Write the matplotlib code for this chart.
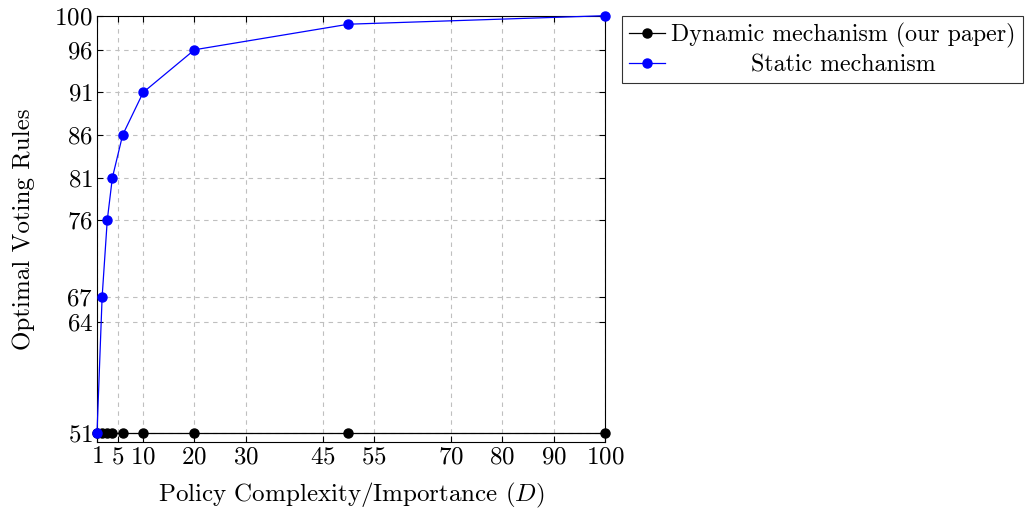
import matplotlib
matplotlib.use("Agg")
import matplotlib.pyplot as plt

# data
d_values = [1, 2, 3, 4, 6, 10, 20, 50, 100]
dynamic_rule = [51, 51, 51, 51, 51, 51, 51, 51, 51]
static_rule = [51, 67, 76, 81, 86, 91, 96, 99, 100]

x_ticks = [1, 5, 10, 20, 30, 45, 55, 70, 80, 90, 100]
y_ticks = [51, 64, 67, 76, 81, 86, 91, 96, 100]

plt.rcParams['font.family'] = ['cmr10', 'DejaVu Serif']
plt.rcParams['mathtext.fontset'] = 'cm'
plt.rcParams['axes.formatter.use_mathtext'] = True

fig = plt.figure(figsize=(10.33, 5.11), dpi=100)
ax = fig.add_axes([0.0939, 0.1356, 0.4918, 0.8337])

ax.plot(d_values, dynamic_rule, color='black', lw=0.9, marker='o', ms=6.5,
        label='Dynamic mechanism (our paper)', clip_on=False, zorder=3)
ax.plot(d_values, static_rule, color='#0000ff', lw=0.9, marker='o', ms=6.5,
        label='Static mechanism', clip_on=False, zorder=4)

ax.set_xlim(1, 100)
ax.set_ylim(50, 100)
ax.set_xticks(x_ticks)
ax.set_yticks(y_ticks)
ax.grid(True, color='#bfbfbf', ls=(0, (4, 4)), lw=0.8)
ax.tick_params(direction='in', length=4, labelsize=18, top=True, right=True, pad=3)
for s in ax.spines.values():
    s.set_linewidth(0.8)

ax.set_xlabel('Policy Complexity/Importance ($D$)', fontsize=18, labelpad=9)
ax.set_ylabel('Optimal Voting Rules', fontsize=18, labelpad=14)

leg = fig.legend(loc='upper left', bbox_to_anchor=(0.602, 0.969), fontsize=17.2,
                 frameon=True, fancybox=False, edgecolor='black',
                 handlelength=1.5, handletextpad=0.25, borderpad=0.3,
                 labelspacing=0.25, borderaxespad=0)
leg.get_frame().set_linewidth(0.8)

# pgfplots centres the legend entries, shift the shorter one over
fig.canvas.draw()
texts = leg.get_texts()
w0 = texts[0].get_window_extent().width
w1 = texts[1].get_window_extent().width
texts[1].set_position(((w0 - w1) / 2, 0))

fig.savefig('out.png', dpi=100)
